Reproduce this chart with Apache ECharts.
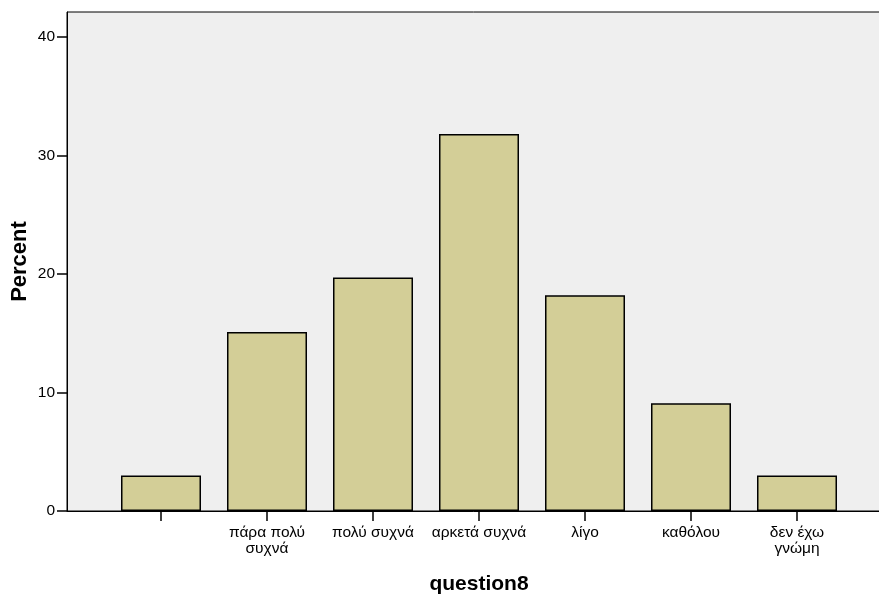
<!DOCTYPE html>
<html><head><meta charset="utf-8">
<script src="https://cdn.jsdelivr.net/npm/echarts@6/dist/echarts.min.js"></script>
<style>html,body{margin:0;padding:0;background:#fff}#c{width:879px;height:596px}</style>
</head><body><div id="c"></div>
<script>
var categories = ['', 'πάρα πολύ\nσυχνά', 'πολύ συχνά', 'αρκετά συχνά', 'λίγο', 'καθόλου', 'δεν έχω\nγνώμη'];
var percents = [3.0, 15.1, 19.7, 31.8, 18.2, 9.1, 3.0];
var yTicks = [0, 10, 20, 30, 40];
var yMax = 42.1;

var font = 'Liberation Sans, Arial, sans-serif';
var chart = echarts.init(document.getElementById('c'));
chart.setOption({
  animation: false,
  grid: [
    {left: 67, right: -2, top: 12, bottom: 85, show: true, backgroundColor: '#efefef', borderColor: '#000', borderWidth: 1, containLabel: false, outerBoundsMode: 'none'},
    {left: 108, width: 742, top: 12, bottom: 85, containLabel: false, outerBoundsMode: 'none'}
  ],
  xAxis: [
    {gridIndex: 0, type: 'category', data: [], axisLine: {lineStyle: {color: '#000', width: 1}}, axisTick: {show: false}, axisLabel: {show: false},
     name: 'question8', nameLocation: 'middle', nameGap: 63, nameMoveOverlap: false,
     nameTextStyle: {fontFamily: font, fontWeight: 'bold', fontSize: 21, color: '#000', padding: [0, 0, 0, 10]}},
    {gridIndex: 1, type: 'category', data: categories, axisLine: {show: false},
     axisTick: {show: true, alignWithLabel: true, length: 10, lineStyle: {color: '#000', width: 1.5}},
     axisLabel: {fontFamily: font, fontSize: 15.5, color: '#000', margin: 14, lineHeight: 16, interval: 0}}
  ],
  yAxis: [
    {gridIndex: 0, type: 'value', min: 0, max: yMax, interval: 10,
     axisLine: {show: true, lineStyle: {color: '#000', width: 1}},
     axisTick: {show: true, length: 10, customValues: yTicks, lineStyle: {color: '#000', width: 1.5}},
     axisLabel: {fontFamily: font, fontSize: 15.5, color: '#000', margin: 12, customValues: yTicks},
     splitLine: {show: false},
     name: 'Percent', nameLocation: 'middle', nameGap: 36, nameRotate: 90, nameMoveOverlap: false,
     nameTextStyle: {fontFamily: font, fontWeight: 'bold', fontSize: 22, color: '#000'}},
    {gridIndex: 1, type: 'value', min: 0, max: yMax, show: false}
  ],
  series: [{
    type: 'bar', xAxisIndex: 1, yAxisIndex: 1, data: percents, barWidth: 80,
    itemStyle: {color: '#d3ce97', borderColor: '#000', borderWidth: 1.5}
  }]
});
</script></body></html>
